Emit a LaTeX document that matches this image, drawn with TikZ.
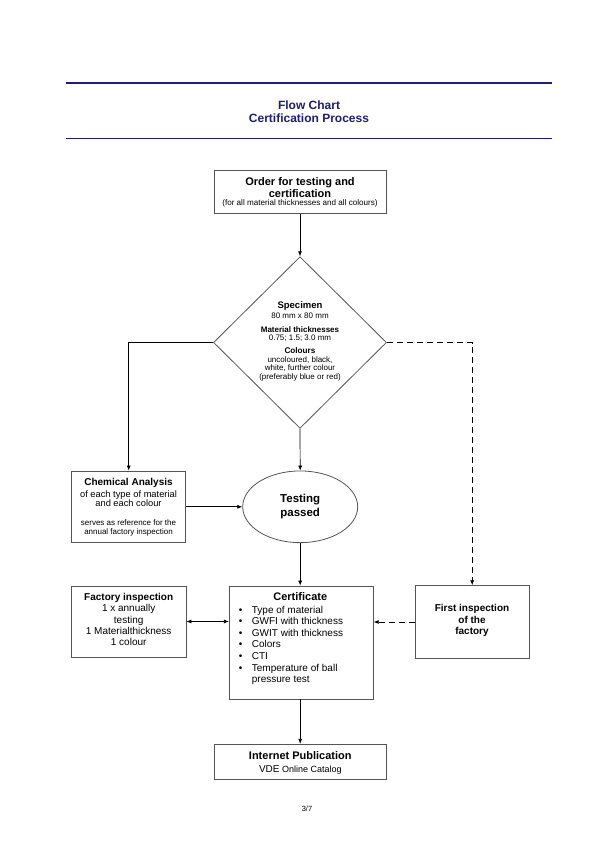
\documentclass[tikz,border=0pt]{standalone}
\usepackage{fontspec}
\setmainfont{Liberation Sans}
\usetikzlibrary{shapes.geometric,arrows.meta}
\definecolor{navy}{RGB}{30,30,120}
\definecolor{boxline}{RGB}{85,85,85}
\newcommand{\fsz}[1]{\fontsize{#1}{#1}\selectfont}
\tikzset{
  boxnode/.style={draw=boxline, line width=0.8pt, rectangle, inner sep=0pt},
  txt/.style={anchor=base, inner sep=0pt},
  txtl/.style={anchor=base west, inner sep=0pt},
  arr/.style={draw=black, line width=0.7pt, -{Latex[length=5pt,width=4pt]}},
  dsh/.style={arr, dash pattern=on 6pt off 4pt},
  dbl/.style={draw=black, line width=0.7pt, {Latex[length=5pt,width=4pt]}-{Latex[length=5pt,width=4pt]}},
}
\begin{document}
\begin{tikzpicture}[x=1pt,y=-1pt]
\useasboundingbox (0,0) rectangle (600,849);
\fill[white] (0,0) rectangle (600,849);

% header
\draw[navy, line width=1.9pt] (66,83.3) -- (551.7,83.3);
\draw[navy, line width=1.9pt] (66,138.5) -- (551.7,138.5);
\node[txt, text=navy, font=\fsz{12}\bfseries] (title1) at (309,109.3) {Flow Chart};
\node[txt, text=navy, font=\fsz{12}\bfseries] (title2) at (309,122.7) {Certification Process};

% shapes
\node[boxnode, minimum width=172pt, minimum height=43pt] (order) at (300,191.6) {};
\node[diamond, draw=boxline, line width=0.8pt, minimum width=173pt, minimum height=171.6pt, inner sep=0pt] (spec) at (300,342.5) {};
\node[boxnode, minimum width=114pt, minimum height=71pt] (chem) at (128.7,506.5) {};
\node[ellipse, draw=boxline, line width=0.8pt, minimum width=115pt, minimum height=71.7pt, inner sep=0pt] (test) at (300.2,506.8) {};
\node[boxnode, minimum width=115pt, minimum height=71pt] (fact) at (128.5,621.5) {};
\node[boxnode, minimum width=144pt, minimum height=113pt] (cert) at (301.3,642.5) {};
\node[boxnode, minimum width=114.3pt, minimum height=72.6pt] (first) at (472.2,622) {};
\node[boxnode, minimum width=171.7pt, minimum height=35pt] (inet) at (300.2,761.8) {};

% order text
\node[txt, font=\fsz{11}\bfseries] (o1) at (300,185.8) {Order for testing and};
\node[txt, font=\fsz{11}\bfseries] (o2) at (300,197) {certification};
\node[txt, font=\fsz{8.1}] (o3) at (300,205.3) {(for all material thicknesses and all colours)};

% specimen text
\node[txt, font=\fsz{9.5}\bfseries] (s1) at (300,308) {Specimen};
\node[txt, font=\fsz{8}] (s2) at (300,318.5) {80 mm x 80 mm};
\node[txt, font=\fsz{8}\bfseries] (s3) at (300,332) {Material thicknesses};
\node[txt, font=\fsz{8}] (s4) at (300,340.7) {0.75; 1.5; 3.0 mm};
\node[txt, font=\fsz{8.2}\bfseries] (s5) at (300,353.3) {Colours};
\node[txt, font=\fsz{8}] (s6) at (300,362) {uncoloured, black,};
\node[txt, font=\fsz{8}] (s7) at (300,370.7) {white, further colour};
\node[txt, font=\fsz{8}] (s8) at (300,379.5) {(preferably blue or red)};

% chemical analysis text
\node[txt, font=\fsz{10}\bfseries] (c1) at (128.5,485.5) {Chemical Analysis};
\node[txt, font=\fsz{9.3}] (c2) at (128.5,497.5) {of each type of material};
\node[txt, font=\fsz{9.3}] (c3) at (128.5,506.8) {and each colour};
\node[txt, font=\fsz{8}] (c4) at (128.5,525.8) {serves as reference for the};
\node[txt, font=\fsz{8}] (c5) at (128.5,534) {annual factory inspection};

% testing passed
\node[txt, font=\fsz{11.5}\bfseries] (e1) at (300.2,502.6) {Testing};
\node[txt, font=\fsz{11.5}\bfseries] (e2) at (300.2,516.8) {passed};

% factory inspection
\node[txt, font=\fsz{10}\bfseries] (f1) at (128.7,600.5) {Factory inspection};
\node[txt, font=\fsz{10}] (f2) at (128.7,611.8) {1 x annually};
\node[txt, font=\fsz{10}] (f3) at (128.7,623.1) {testing};
\node[txt, font=\fsz{10}] (f4) at (128.7,634.4) {1 Materialthickness};
\node[txt, font=\fsz{10}] (f5) at (128.7,645.7) {1 colour};

% certificate
\node[txt, font=\fsz{11}\bfseries] (ct) at (300.3,600) {Certificate};
\node[txt, font=\fsz{10}] (b1) at (240.7,613.0) {\textbullet};
\node[txt, font=\fsz{10}] (b2) at (240.7,624.6) {\textbullet};
\node[txt, font=\fsz{10}] (b3) at (240.7,636.2) {\textbullet};
\node[txt, font=\fsz{10}] (b4) at (240.7,647.8) {\textbullet};
\node[txt, font=\fsz{10}] (b5) at (240.7,659.4) {\textbullet};
\node[txt, font=\fsz{10}] (b6) at (240.7,671.0) {\textbullet};
\node[txtl, font=\fsz{10}] (l1) at (251.7,613.0) {Type of material};
\node[txtl, font=\fsz{10}] (l2) at (251.7,624.6) {GWFI with thickness};
\node[txtl, font=\fsz{10}] (l3) at (251.7,636.2) {GWIT with thickness};
\node[txtl, font=\fsz{10}] (l4) at (251.7,647.8) {Colors};
\node[txtl, font=\fsz{10}] (l5) at (251.7,659.4) {CTI};
\node[txtl, font=\fsz{10}] (l6) at (251.7,671.0) {Temperature of ball};
\node[txtl, font=\fsz{10}] (l7) at (251.7,682.8) {pressure test};

% first inspection
\node[txt, font=\fsz{10}\bfseries] (fi1) at (472,611.2) {First inspection};
\node[txt, font=\fsz{10}\bfseries] (fi2) at (472,623.2) {of the};
\node[txt, font=\fsz{10}\bfseries] (fi3) at (472,634.5) {factory};

% internet publication
\node[txt, font=\fsz{11}\bfseries] (i1) at (300.3,759.6) {Internet Publication};
\node[txt, font=\fsz{9}] (i2) at (300.3,772.2) {{\fsz{10}VDE} Online Catalog};

% page number
\node[txt, font=\fsz{7.5}] (page) at (307,811.7) {3/7};

% connectors
\draw[arr] (order.south) -- (spec.north);
\draw[arr] (spec.west) -| (chem.north);
\draw[dsh] (spec.east) -| (first.north);
\draw[arr] (spec.south) -- (test.north);
\draw[arr] (chem.east |- test.west) -- (test.west);
\draw[arr] (test.south) -- (test.south |- cert.north);
\draw[dbl] (fact.east) -- (fact.east -| cert.west);
\draw[dsh] (first.west) -- (first.west -| cert.east);
\draw[arr] (inet.north |- cert.south) -- (inet.north);
\end{tikzpicture}
\end{document}
